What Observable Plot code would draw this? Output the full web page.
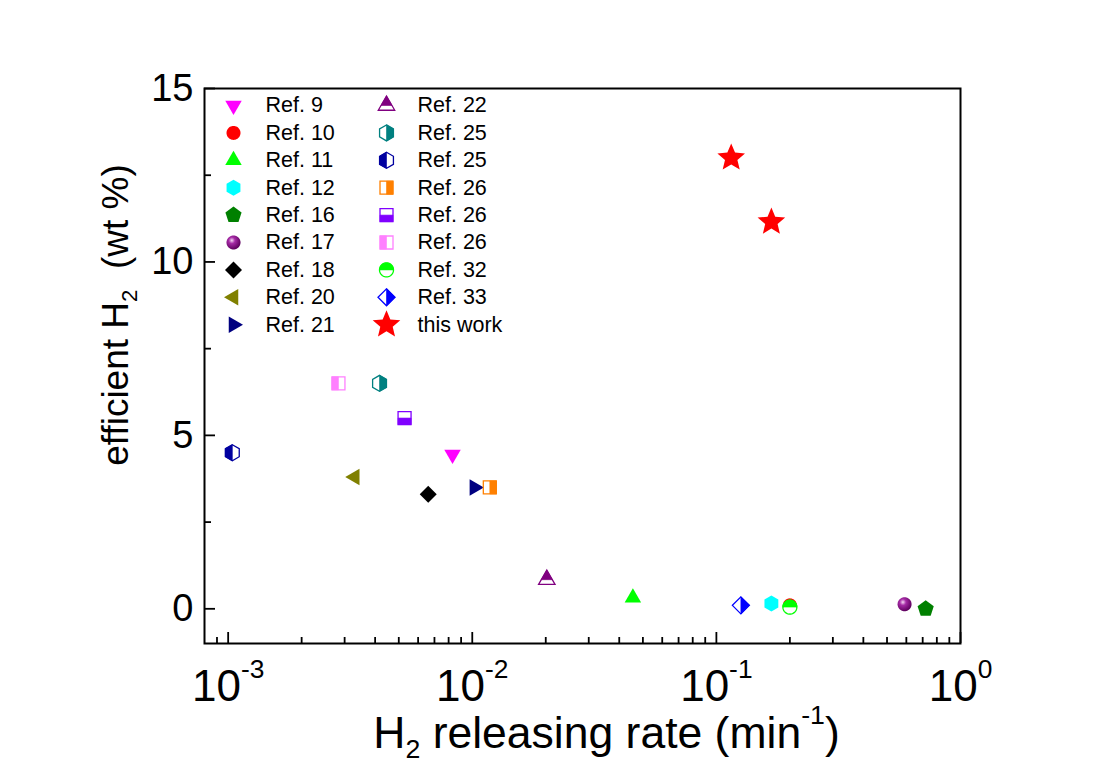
<!DOCTYPE html>
<html>
<head>
<meta charset="utf-8">
<script src="https://cdn.jsdelivr.net/npm/d3@7"></script>
<script src="https://cdn.jsdelivr.net/npm/@observablehq/plot@0.6"></script>
<style>
  body { margin: 0; background: #fff; }
  #chart svg { display: block; }
</style>
</head>
<body>
<div id="chart"></div>
<script>
// ---------------- data ----------------
const labels = ["Ref. 9", "Ref. 10", "Ref. 11", "Ref. 12", "Ref. 16", "Ref. 17", "Ref. 18", "Ref. 20", "Ref. 21",
                "Ref. 22", "Ref. 25", "Ref. 25", "Ref. 26", "Ref. 26", "Ref. 26", "Ref. 32", "Ref. 33", "this work"];
const rateValues = [[0.0083], [0.2], [0.0455], [0.168], [0.72], [0.59], [0.0066], [0.0033], [0.0102],
                    [0.0202], [0.00417], [0.00104], [0.0118], [0.00528], [0.00283], [0.2], [0.126], [0.115, 0.168]];
const wtValues   = [[4.45], [0.1], [0.32], [0.15], [0.0], [0.13], [3.3], [3.8], [3.5],
                    [0.84], [6.5], [4.5], [3.5], [5.5], [6.5], [0.05], [0.1], [13.0, 11.15]];

const xMajorTicks = [0.001, 0.01, 0.1, 1];
const xTickLabels = ["10^{-3}", "10^{-2}", "10^{-1}", "10^{0}"];
const xMinorTicks = [0.0009, 0.002, 0.003, 0.004, 0.005, 0.006, 0.007, 0.008, 0.009,
                     0.02, 0.03, 0.04, 0.05, 0.06, 0.07, 0.08, 0.09,
                     0.2, 0.3, 0.4, 0.5, 0.6, 0.7, 0.8, 0.9];
const yMajorTicks = [0, 5, 10, 15];
const yTickLabels = ["0", "5", "10", "15"];
const yMinorTicks = [2.5, 7.5, 12.5];
const xTitle = "H_{2} releasing rate (min^{-1})";
const yTitle = "efficient H_{2}  (wt %)";

// ---------------- styles ----------------
const styles = [
  {shape: "tri", rotate: 180, color: "#FF00FF"},
  {shape: "circle", color: "#FF0000"},
  {shape: "tri", color: "#00FF00"},
  {shape: "hex", color: "#00FFFF"},
  {shape: "pent", color: "#008000"},
  {shape: "circle", color: "#800080", sphere: true},
  {shape: "diamond", color: "#000000"},
  {shape: "tri", rotate: -90, color: "#808000"},
  {shape: "tri", rotate: 90, color: "#000080"},
  {shape: "tri", color: "#800080", half: "top"},
  {shape: "hex", color: "#008080", half: "right"},
  {shape: "hex", color: "#0000A0", half: "left"},
  {shape: "square", color: "#FF8000", half: "right"},
  {shape: "square", color: "#8000FF", half: "bottom"},
  {shape: "square", color: "#FF80FF", half: "left"},
  {shape: "circle", color: "#00FF00", half: "top"},
  {shape: "diamond", color: "#0000FF", half: "right"},
  {shape: "star", color: "#FF0000"}
];
const shapeR = {circle: 7, tri: 9.5, hex: 8, pent: 8.5, square: 6.5, diamond: 8.5, star: 14.5};

// ---------------- symbols ----------------
function regular(n, R, start) {
  const pts = [];
  for (let k = 0; k < n; k++) {
    const a = (start + k * 360 / n) * Math.PI / 180;
    pts.push([R * Math.cos(a), R * Math.sin(a)]);
  }
  return pts;
}
const shapes = {
  circle: R => regular(48, R, 0),
  tri: R => regular(3, R, -90),
  hex: R => regular(6, R, -90),
  pent: R => regular(5, R, -90),
  square: R => [[-R, -R], [R, -R], [R, R], [-R, R]],
  diamond: R => [[0, -R], [R, 0], [0, R], [-R, 0]],
  star: R => {
    const pts = [];
    for (let k = 0; k < 10; k++) {
      const a = (-90 + k * 36) * Math.PI / 180, r = k % 2 ? R * 0.45 : R;
      pts.push([r * Math.cos(a), r * Math.sin(a)]);
    }
    return pts;
  }
};
const sideFn = {
  left: p => -p[0], right: p => p[0], top: p => -p[1], bottom: p => p[1]
};
function clip(pts, f) {
  const out = [];
  for (let i = 0; i < pts.length; i++) {
    const a = pts[i], b = pts[(i + 1) % pts.length];
    const fa = f(a), fb = f(b);
    if (fa >= 0) out.push(a);
    if ((fa >= 0) !== (fb >= 0)) {
      const t = fa / (fa - fb);
      out.push([a[0] + t * (b[0] - a[0]), a[1] + t * (b[1] - a[1])]);
    }
  }
  return out;
}
function makeSymbol(shape, half) {
  return {
    draw(ctx, size) {
      const R = Math.sqrt(size / Math.PI);
      let pts = shapes[shape](R);
      if (half) pts = clip(pts, sideFn[half]);
      pts.forEach((p, i) => i ? ctx.lineTo(p[0], p[1]) : ctx.moveTo(p[0], p[1]));
      ctx.closePath();
    }
  };
}

// ---------------- layout ----------------
const W = 1103, H = 767, mL = 204, mR = 143, mT = 88, mB = 124;
const fw = W - mL - mR, fh = H - mT - mB;
const FONT = "Liberation Sans, Arial, Helvetica, sans-serif";

function symbolMarks(data, st, extra) {
  const r = shapeR[st.shape];
  const base = {symbol: makeSymbol(st.shape), r, rotate: st.rotate || 0, ...extra};
  if (st.half) {
    return [
      Plot.dot(data, {...base, fill: "white", stroke: st.color, strokeWidth: 1.3}),
      Plot.dot(data, {...base, symbol: makeSymbol(st.shape, st.half), fill: st.color, stroke: st.color, strokeWidth: 0.6})
    ];
  }
  return [Plot.dot(data, {...base, fill: st.sphere ? "url(#sphereGrad)" : st.color, stroke: "none"})];
}

const marks = [];
// ticks (inward)
marks.push(Plot.tickX(xMinorTicks, {x: d => d, insetTop: fh - 6, stroke: "black", strokeWidth: 1.8}));
marks.push(Plot.tickX(xMajorTicks, {x: d => d, insetTop: fh - 11, stroke: "black", strokeWidth: 1.8}));
marks.push(Plot.tickY(yMinorTicks, {y: d => d, insetRight: fw - 7, stroke: "black", strokeWidth: 1.8}));
marks.push(Plot.tickY(yMajorTicks, {y: d => d, insetRight: fw - 11, stroke: "black", strokeWidth: 1.8}));
marks.push(Plot.frame({stroke: "black", strokeWidth: 2}));

// tick labels
marks.push(Plot.text(yMajorTicks, {y: d => d, text: (d, i) => yTickLabels[i], frameAnchor: "left",
  textAnchor: "end", lineAnchor: "middle", dx: -11, fontSize: 38, fill: "black"}));
marks.push(Plot.text(xMajorTicks, {x: d => d, text: (d, i) => xTickLabels[i], frameAnchor: "bottom",
  textAnchor: "middle", lineAnchor: "bottom", dy: 57, fontSize: 44, fill: "black", className: "rich"}));

// axis titles
marks.push(Plot.text([xTitle], {text: d => d, frameAnchor: "bottom", textAnchor: "middle", lineAnchor: "bottom",
  dx: 24, dy: 104, fontSize: 44.5, fill: "black", className: "rich"}));
marks.push(Plot.text([yTitle], {text: d => d, frameAnchor: "left", rotate: -90, textAnchor: "middle",
  lineAnchor: "middle", dx: -88, dy: -51, fontSize: 37, fill: "black", className: "rich"}));

// data points
labels.forEach((lab, i) => {
  const data = rateValues[i].map((x, j) => ({x, y: wtValues[i][j]}));
  marks.push(...symbolMarks(data, styles[i], {x: "x", y: "y"}));
});

// legend
labels.forEach((lab, i) => {
  const col = i < 9 ? 0 : 1, row = i % 9;
  const sx = col ? 182 : 29, tx = col ? 213 : 61;
  const dy = 17 + row * 27.4;
  marks.push(...symbolMarks([lab], styles[i], {frameAnchor: "top-left", dx: sx, dy}));
  marks.push(Plot.text([lab], {text: d => d, frameAnchor: "top-left", dx: tx, dy,
    textAnchor: "start", lineAnchor: "middle", fontSize: 21.5, fill: "black"}));
});

const chart = Plot.plot({
  width: W, height: H,
  marginLeft: mL, marginRight: mR, marginTop: mT, marginBottom: mB,
  x: {type: "log", domain: [0.0008, 1], axis: null},
  y: {domain: [-1, 15], axis: null},
  style: {fontFamily: FONT, background: "white", color: "black", overflow: "visible"},
  marks
});

// gradient for the sphere symbol
const svg = d3.select(chart.tagName.toLowerCase() === "svg" ? chart : chart.querySelector("svg"));
const grad = svg.insert("defs", ":first-child").append("radialGradient")
  .attr("id", "sphereGrad").attr("cx", "38%").attr("cy", "35%").attr("r", "65%");
grad.append("stop").attr("offset", "0%").attr("stop-color", "#F6D8F6");
grad.append("stop").attr("offset", "35%").attr("stop-color", "#A52AA5");
grad.append("stop").attr("offset", "100%").attr("stop-color", "#5E005E");

// rich text: _{sub} and ^{sup}
svg.selectAll("g.rich text").each(function() {
  const node = this;
  const g = node.parentNode;
  const fs = parseFloat(g.getAttribute("font-size")) || 40;
  const raw = node.textContent;
  const parts = [];
  const re = /([_^])\{([^}]*)\}/g;
  let last = 0, m;
  while ((m = re.exec(raw))) {
    if (m.index > last) parts.push({t: raw.slice(last, m.index), k: "n"});
    parts.push({t: m[2], k: m[1] === "^" ? "sup" : "sub"});
    last = re.lastIndex;
  }
  if (last < raw.length) parts.push({t: raw.slice(last), k: "n"});
  while (node.firstChild) node.removeChild(node.firstChild);
  let shift = 0;
  const sel = d3.select(node);
  parts.forEach(p => {
    const ts = sel.append("tspan").text(p.t).attr("xml:space", "preserve").style("white-space", "pre");
    let target = 0;
    if (p.k === "sup") { ts.attr("font-size", fs * 0.6); target = -fs * 0.52; }
    if (p.k === "sub") { ts.attr("font-size", fs * 0.6); target = fs * 0.24; }
    ts.attr("dy", target - shift);
    shift = target;
  });
});

document.getElementById("chart").appendChild(chart);
</script>
</body>
</html>
